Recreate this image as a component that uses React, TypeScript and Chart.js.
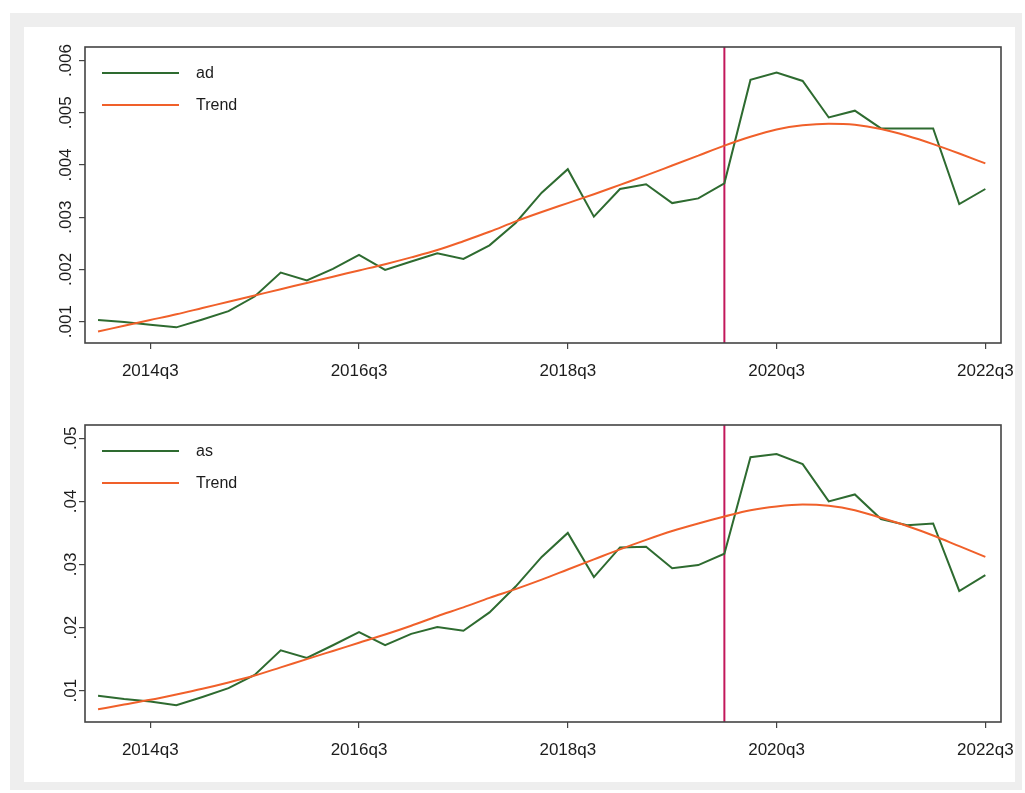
import React, { useEffect, useRef } from 'react';
import { Chart, registerables } from 'chart.js';

Chart.register(...registerables);

const quarters = [
  '2014q1', '2014q2', '2014q3', '2014q4',
  '2015q1', '2015q2', '2015q3', '2015q4',
  '2016q1', '2016q2', '2016q3', '2016q4',
  '2017q1', '2017q2', '2017q3', '2017q4',
  '2018q1', '2018q2', '2018q3', '2018q4',
  '2019q1', '2019q2', '2019q3', '2019q4',
  '2020q1', '2020q2', '2020q3', '2020q4',
  '2021q1', '2021q2', '2021q3', '2021q4',
  '2022q1', '2022q2', '2022q3',
];

const adValues = [
  0.00103, 0.00099, 0.00094, 0.00089, 0.00104, 0.0012, 0.00148, 0.00194, 0.00179,
  0.00201, 0.00228, 0.00199, 0.00215, 0.00231, 0.0022, 0.00246, 0.00289, 0.00347,
  0.00392, 0.00301, 0.00354, 0.00363, 0.00327, 0.00336, 0.00365, 0.00563, 0.00577,
  0.00561, 0.00491, 0.00504, 0.0047, 0.0047, 0.0047, 0.00325, 0.00354,
];

const adTrend = [
  0.00081, 0.00092, 0.00103, 0.00114, 0.00126, 0.00138, 0.0015, 0.00162, 0.00174,
  0.00186, 0.00198, 0.0021, 0.00223, 0.00237, 0.00254, 0.00272, 0.00292, 0.0031,
  0.00327, 0.00344, 0.00362, 0.0038, 0.00399, 0.00418, 0.00437, 0.00454, 0.00468,
  0.00476, 0.00479, 0.00477, 0.00469, 0.00456, 0.0044, 0.00422, 0.00403,
];

const asValues = [
  0.0092, 0.0087, 0.0083, 0.0077, 0.009, 0.0104, 0.0125, 0.0164, 0.0152,
  0.0172, 0.0193, 0.0172, 0.019, 0.0201, 0.0195, 0.0224, 0.0265, 0.0312,
  0.035, 0.028, 0.0327, 0.0328, 0.0294, 0.0299, 0.0317, 0.047, 0.0475,
  0.0459, 0.04, 0.0411, 0.0372, 0.0362, 0.0365, 0.0258, 0.0283,
];

const asTrend = [
  0.00705, 0.0078, 0.00855, 0.0094, 0.0103, 0.0113, 0.0124, 0.0137, 0.015,
  0.0163, 0.0176, 0.0189, 0.0203, 0.0218, 0.0232, 0.0247, 0.0261, 0.0276,
  0.0292, 0.0308, 0.0324, 0.0339, 0.0353, 0.0365, 0.0376, 0.0386, 0.0392,
  0.0395, 0.0393, 0.0386, 0.0374, 0.0361, 0.0346, 0.0329, 0.0312,
];

const xTickLabels = ['2014q3', '2016q3', '2018q3', '2020q3', '2022q3'];
const adTicks = [0.001, 0.002, 0.003, 0.004, 0.005, 0.006];
const asTicks = [0.01, 0.02, 0.03, 0.04, 0.05];
const breakQuarter = '2020q1';

const FONT = "'Liberation Sans', Arial, sans-serif";
const GREEN = '#2e6b30';
const ORANGE = '#f0602a';
const AXIS = '#444444';
const TEXT = '#1c1c1c';
const LINE_MARK = '#c2185b';

const decorPlugin = {
  id: 'panelDecor',
  beforeDatasetsDraw(chart: any) {
    const { ctx, chartArea, scales } = chart;
    const xv = scales.x.getPixelForValue(quarters.indexOf(breakQuarter));
    ctx.save();
    ctx.strokeStyle = LINE_MARK;
    ctx.lineWidth = 2;
    ctx.beginPath();
    ctx.moveTo(xv, chartArea.top);
    ctx.lineTo(xv, chartArea.bottom);
    ctx.stroke();
    ctx.restore();
  },
  afterDraw(chart: any) {
    const { ctx, chartArea } = chart;
    ctx.save();
    ctx.strokeStyle = AXIS;
    ctx.lineWidth = 1.6;
    ctx.strokeRect(chartArea.left, chartArea.top, chartArea.right - chartArea.left, chartArea.bottom - chartArea.top);
    const ds = chart.data.datasets;
    ds.forEach((d: any, k: number) => {
      const y = chartArea.top + 26 + k * 32;
      ctx.strokeStyle = d.borderColor;
      ctx.lineWidth = 2;
      ctx.beginPath();
      ctx.moveTo(chartArea.left + 17, y);
      ctx.lineTo(chartArea.left + 94, y);
      ctx.stroke();
      ctx.fillStyle = TEXT;
      ctx.font = `16px ${FONT}`;
      ctx.textAlign = 'left';
      ctx.textBaseline = 'middle';
      ctx.fillText(d.label, chartArea.left + 111, y + 1);
    });
    ctx.restore();
  },
};

type PanelProps = {
  name: string;
  values: number[];
  trend: number[];
  yTicks: number[];
  yMin: number;
  yMax: number;
  decimals: number;
  padTop: number;
  padBottom: number;
};

function Panel(p: PanelProps) {
  const ref = useRef<HTMLCanvasElement>(null);
  useEffect(() => {
    if (!ref.current) return;
    const chart = new Chart(ref.current, {
      type: 'line',
      data: {
        datasets: [
          {
            label: p.name,
            data: p.values.map((v, i) => ({ x: i, y: v })),
            borderColor: GREEN,
            borderWidth: 2,
            pointRadius: 0,
            fill: false,
            tension: 0,
            order: 1,
          },
          {
            label: 'Trend',
            data: p.trend.map((v, i) => ({ x: i, y: v })),
            borderColor: ORANGE,
            borderWidth: 2,
            pointRadius: 0,
            fill: false,
            cubicInterpolationMode: 'monotone',
            order: 0,
          },
        ],
      },
      options: {
        responsive: false,
        animation: false,
        layout: { padding: { left: 25, right: 24, top: p.padTop, bottom: p.padBottom } },
        plugins: { legend: { display: false }, tooltip: { enabled: false } },
        scales: {
          x: {
            type: 'linear',
            min: -0.5,
            max: 34.6,
            border: { display: false },
            grid: { drawOnChartArea: false, drawTicks: true, tickLength: 6, color: AXIS, lineWidth: 1.2 },
            ticks: {
              autoSkip: false,
              maxRotation: 0,
              minRotation: 0,
              padding: 12,
              color: TEXT,
              font: { family: FONT, size: 17 },
              callback: (v: any) => quarters[Math.round(Number(v))] ?? '',
            },
            afterBuildTicks: (s: any) => {
              s.ticks = xTickLabels.map((l) => ({ value: quarters.indexOf(l) }));
            },
            afterFit: (s: any) => {
              s.height = 40;
              s.paddingLeft = 0;
              s.paddingRight = 0;
            },
          },
          y: {
            type: 'linear',
            min: p.yMin,
            max: p.yMax,
            border: { display: false },
            grid: { drawOnChartArea: false, drawTicks: true, tickLength: 6, color: AXIS, lineWidth: 1.2 },
            ticks: {
              autoSkip: false,
              minRotation: 90,
              maxRotation: 90,
              crossAlign: 'center',
              padding: -4,
              color: TEXT,
              font: { family: FONT, size: 17 },
              callback: (v: any) => Number(v).toFixed(p.decimals).replace(/^0/, ''),
            },
            afterBuildTicks: (s: any) => {
              s.ticks = p.yTicks.map((v) => ({ value: v }));
            },
            afterFit: (s: any) => {
              s.width = 60;
              s.paddingTop = 0;
              s.paddingBottom = 0;
            },
          },
        },
      } as any,
      plugins: [decorPlugin],
    });
    return () => chart.destroy();
  }, []);
  return (
    <canvas
      ref={ref}
      width={1025}
      height={793}
      style={{ position: 'absolute', left: 0, top: 0, width: 1025, height: 793 }}
    />
  );
}

export default function App() {
  return (
    <div style={{ position: 'absolute', left: 0, top: 0, width: 1025, height: 793, background: '#ffffff', overflow: 'hidden' }}>
      <div style={{ position: 'absolute', left: 10, top: 13, width: 1012, height: 777, background: '#eeeeee' }} />
      <div style={{ position: 'absolute', left: 24, top: 27, width: 991, height: 755, background: '#ffffff' }} />
      <Panel
        name="ad"
        values={adValues}
        trend={adTrend}
        yTicks={adTicks}
        yMin={0.00059}
        yMax={0.00626}
        decimals={3}
        padTop={47}
        padBottom={793 - 343 - 40}
      />
      <Panel
        name="as"
        values={asValues}
        trend={asTrend}
        yTicks={asTicks}
        yMin={0.00504}
        yMax={0.0521}
        decimals={2}
        padTop={425}
        padBottom={793 - 722 - 40}
      />
    </div>
  );
}
